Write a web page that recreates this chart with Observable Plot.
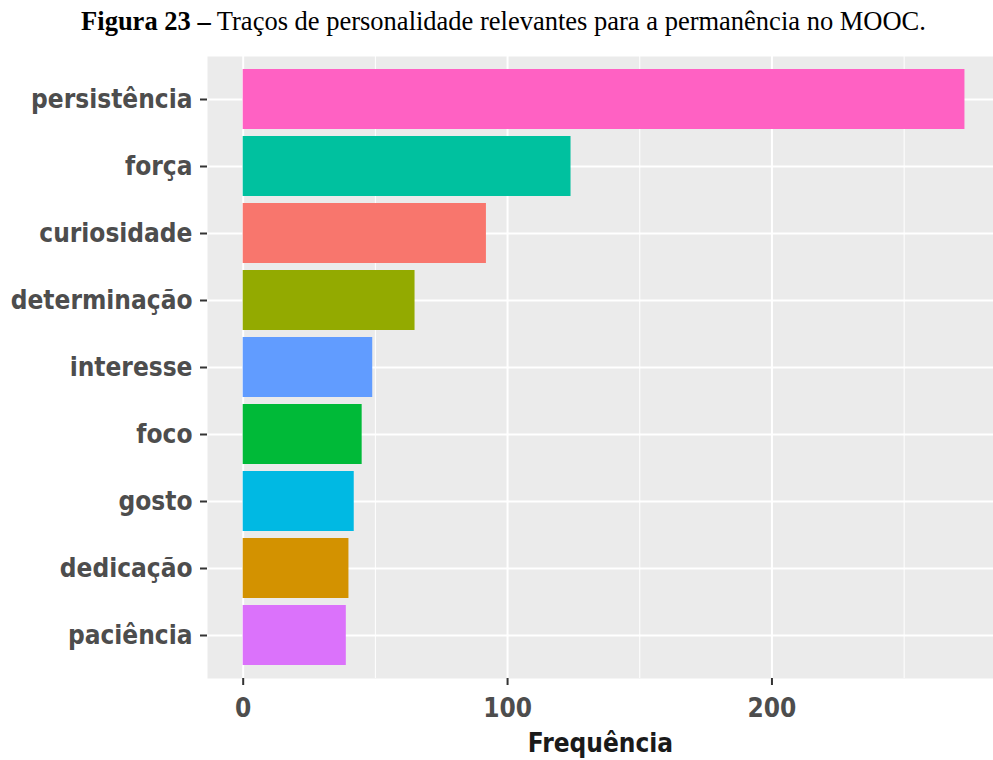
<!DOCTYPE html>
<html>
<head>
<meta charset="utf-8">
<script src="https://cdn.jsdelivr.net/npm/d3@7"></script>
<script src="https://cdn.jsdelivr.net/npm/@observablehq/plot@0.6"></script>
<style>
  html, body { margin: 0; padding: 0; background: white; overflow: hidden; }
  #title {
    width: 993px; height: 40px; box-sizing: border-box; padding-top: 8px;
    text-align: center; font-family: "Liberation Serif", "Times New Roman", serif;
    font-size: 26.5px; line-height: 26px; color: #000; padding-left: 14px; white-space: nowrap;
  }
  #chart svg { display: block; }
</style>
</head>
<body>
<div id="title"><b>Figura 23 –</b> Traços de personalidade relevantes para a permanência no MOOC.</div>
<div id="chart"></div>
<script>
const traits = ["persistência", "força", "curiosidade", "determinação", "interesse", "foco", "gosto", "dedicação", "paciência"];
const counts = [273, 124, 92, 65, 49, 45, 42, 40, 39];
const colors = ["#FF61C3", "#00C19F", "#F8766D", "#93AA00", "#619CFF", "#00BA38", "#00B9E3", "#D39200", "#DB72FB"];
const xMajorTicks = [0, 100, 200];
const xMinorTicks = [50, 150, 250];
const xTitle = "Frequência";

const data = traits.map((t, i) => ({trait: t, n: counts[i]}));
const font = '"DejaVu Sans Condensed", "Liberation Sans Narrow", "Roboto", sans-serif';

const chart = Plot.plot({
  width: 993,
  height: 720,
  marginLeft: 207,
  marginRight: 0,
  marginTop: 16,
  marginBottom: 82,
  style: {fontFamily: font, background: "white", overflow: "hidden"},
  x: {domain: [-13.5, 283.8]},
  y: {type: "band", domain: traits, paddingInner: 0.1, paddingOuter: 0.15},
  color: {domain: traits, range: colors},
  marks: [
    Plot.frame({fill: "#EBEBEB", stroke: null}),
    Plot.ruleX(xMinorTicks, {stroke: "white", strokeWidth: 1}),
    Plot.ruleX(xMajorTicks, {stroke: "white", strokeWidth: 2}),
    Plot.ruleY(traits, {stroke: "white", strokeWidth: 2}),
    Plot.barX(data, {x: "n", y: "trait", fill: "trait"}),
    Plot.axisY({tickSize: 7, tickPadding: 8, stroke: "#333", strokeWidth: 2, fill: "#4D4D4D",
                fontSize: 26, fontWeight: "bold", label: null}),
    Plot.axisX({ticks: xMajorTicks, tickSize: 7, tickPadding: 13, stroke: "#333", strokeWidth: 2,
                fill: "#4D4D4D", fontSize: 26, fontWeight: "bold", label: null}),
    Plot.text([xTitle], {frameAnchor: "bottom", dy: 55, lineAnchor: "top", fontSize: 26,
                         fontWeight: "bold", fill: "#1A1A1A"})
  ]
});
document.getElementById("chart").appendChild(chart);
</script>
</body>
</html>
